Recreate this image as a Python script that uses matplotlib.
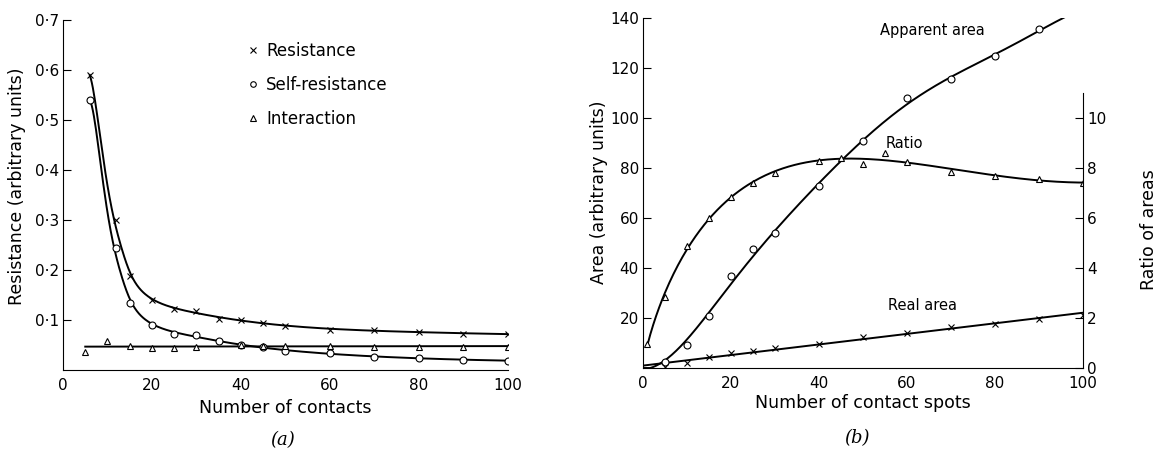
import numpy as np
import matplotlib.pyplot as plt
from matplotlib.ticker import FuncFormatter

# ---- panel (a): resistance vs number of contacts
res_x = [6, 12, 15, 20, 25, 30, 35, 40, 45, 50, 60, 70, 80, 90, 100]
resistance = [0.59, 0.30, 0.188, 0.14, 0.123, 0.118, 0.103, 0.101, 0.094, 0.088,
              0.081, 0.080, 0.076, 0.073, 0.072]
self_resistance = [0.54, 0.244, 0.135, 0.091, 0.073, 0.070, 0.058, 0.050, 0.046,
                   0.038, 0.034, 0.026, 0.024, 0.020, 0.019]
inter_x = [5, 10, 15, 20, 25, 30, 40, 45, 50, 60, 70, 80, 90, 100]
interaction = [0.036, 0.058, 0.048, 0.044, 0.045, 0.047, 0.051, 0.048, 0.048,
               0.048, 0.047, 0.047, 0.047, 0.047]

# ---- panel (b): areas vs number of contact spots
app_x = [0, 5, 10, 15, 20, 25, 30, 40, 50, 60, 70, 80, 90, 98]
apparent_area = [0, 2.4, 9.2, 21, 37, 47.6, 54, 73, 91, 108, 115.6, 125, 135.6, 142]
real_x = [5, 10, 15, 20, 25, 30, 40, 50, 60, 70, 80, 90, 100]
real_area = [0.4, 2.0, 4.4, 6.0, 6.8, 8.0, 9.6, 12.4, 14.0, 16.4, 17.6, 19.6, 21.2]
ratio_x = [1, 5, 10, 15, 20, 25, 30, 40, 45, 50, 55, 60, 70, 80, 90, 100]
ratio = [0.95, 2.85, 4.9, 6.0, 6.85, 7.4, 7.8, 8.3, 8.4, 8.15, 8.6, 8.25, 7.85,
         7.7, 7.55, 7.4]

plt.rcParams['font.family'] = 'DejaVu Sans'
plt.rcParams['font.size'] = 12.5
plt.rcParams['xtick.labelsize'] = 11
plt.rcParams['ytick.labelsize'] = 11

fig = plt.figure(figsize=(11.6, 4.53), dpi=100)

mk = dict(color='black', linestyle='none', markersize=5, markerfacecolor='white',
          markeredgewidth=0.8)


def loess(x, y, xn, bw, deg=2):
    # gaussian weighted local polynomial, gives the smooth drawn curves
    x = np.asarray(x, float)
    y = np.asarray(y, float)
    out = []
    for v in xn:
        w = np.exp(-0.5 * ((x - v) / bw) ** 2)
        A = np.vstack([(x - v) ** p for p in range(deg + 1)]).T
        W = np.diag(w)
        beta = np.linalg.solve(A.T @ W @ A + 1e-12 * np.eye(deg + 1), A.T @ W @ y)
        out.append(beta[0])
    return np.array(out)


def dotfmt(v, pos):
    if v == 0:
        return ''
    return ('%.1f' % v).replace('.', '\u00b7')


# ------------------------------- panel (a)
ax = fig.add_axes([0.0543, 0.1832, 0.3836, 0.7726])
ax.set_xlim(0, 100)
ax.set_ylim(0, 0.7)

xs = np.linspace(res_x[0], 100, 400)
lx = np.log(res_x)
ax.plot(xs, np.exp(loess(lx, np.log(resistance), np.log(xs), 0.28)),
        color='black', lw=1.4)
ax.plot(xs, np.exp(loess(lx, np.log(self_resistance), np.log(xs), 0.28)),
        color='black', lw=1.4)
ci = np.polyfit(inter_x, interaction, 1)
xi = np.linspace(5, 100, 10)
ax.plot(xi, np.polyval(ci, xi), color='black', lw=1.4)

h1, = ax.plot(res_x, resistance, marker='x', label='Resistance', **mk)
h2, = ax.plot(res_x, self_resistance, marker='o', label='Self-resistance', **mk)
h3, = ax.plot(inter_x, interaction, marker='^', label='Interaction', **mk)

ax.legend(handles=[h1, h2, h3], loc='upper left', bbox_to_anchor=(0.37, 0.98),
          frameon=False, handletextpad=0.2, labelspacing=0.95, handlelength=1.2,
          fontsize=12, markerscale=0.8)

ax.spines['top'].set_visible(False)
ax.spines['right'].set_visible(False)
ax.set_xticks([0, 20, 40, 60, 80, 100])
ax.set_yticks(np.arange(0.1, 0.71, 0.1))
ax.yaxis.set_major_formatter(FuncFormatter(dotfmt))
ax.tick_params(axis='x', length=0, pad=6)
ax.tick_params(axis='y', length=6, direction='in', pad=3)
ax.set_xlabel('Number of contacts', labelpad=4)
ax.set_ylabel('Resistance (arbitrary units)')
ax.yaxis.set_label_coords(-0.083, 0.526)
fig.text(0.244, 0.018, '(a)', fontsize=13, family='DejaVu Serif', style='italic',
         ha='center')

# ------------------------------- panel (b)
bx = fig.add_axes([0.5543, 0.1876, 0.3793, 0.7726])
bx.set_xlim(0, 100)
bx.set_ylim(0, 140)

xa = np.linspace(0, 98, 300)
ya = np.maximum(loess(app_x, apparent_area, xa, 15, deg=3), 0)
bx.plot(xa, ya, color='black', lw=1.4)
cr = np.polyfit(real_x, real_area, 1)
x0 = -cr[1] / cr[0]
xr = np.linspace(max(x0, 0), 100, 10)
bx.plot(xr, np.polyval(cr, xr), color='black', lw=1.4)
bx.plot(app_x[1:], apparent_area[1:], marker='o', **mk)
bx.plot(real_x, real_area, marker='x', **mk)

rx = bx.twinx()
rx.set_ylim(0, 14)
sq = np.sqrt(np.array(ratio_x))
cq = np.polyfit(sq, ratio, 4)
xq = np.linspace(1, 100, 300)
rx.plot(xq, np.polyval(cq, np.sqrt(xq)), color='black', lw=1.4)
rx.plot(ratio_x, ratio, marker='^', **mk)

bx.text(65.8, 135, 'Apparent area', ha='center', va='center', fontsize=10.5)
bx.text(59.3, 90, 'Ratio', ha='center', va='center', fontsize=10.5)
bx.text(63.6, 25.2, 'Real area', ha='center', va='center', fontsize=10.5)

for a in (bx, rx):
    a.spines['top'].set_visible(False)
bx.spines['right'].set_visible(False)
rx.spines['left'].set_visible(False)
rx.spines['bottom'].set_visible(False)
rx.spines['right'].set_bounds(0, 11)
bx.set_xticks([0, 20, 40, 60, 80, 100])
bx.set_yticks([20, 40, 60, 80, 100, 120, 140])
rx.set_yticks([0, 2, 4, 6, 8, 10])
bx.tick_params(axis='x', length=0, pad=6)
bx.tick_params(axis='y', length=6, direction='in', pad=3)
rx.tick_params(axis='y', length=6, direction='in', pad=3)
bx.set_xlabel('Number of contact spots', labelpad=2)
bx.set_ylabel('Area (arbitrary units)')
bx.yaxis.set_label_coords(-0.08, 0.503)
rx.set_ylabel('Ratio of areas')
rx.yaxis.set_label_coords(1.13, 0.394)
fig.text(0.739, 0.022, '(b)', fontsize=13, family='DejaVu Serif', style='italic',
         ha='center')

fig.savefig('out.png', dpi=100)
